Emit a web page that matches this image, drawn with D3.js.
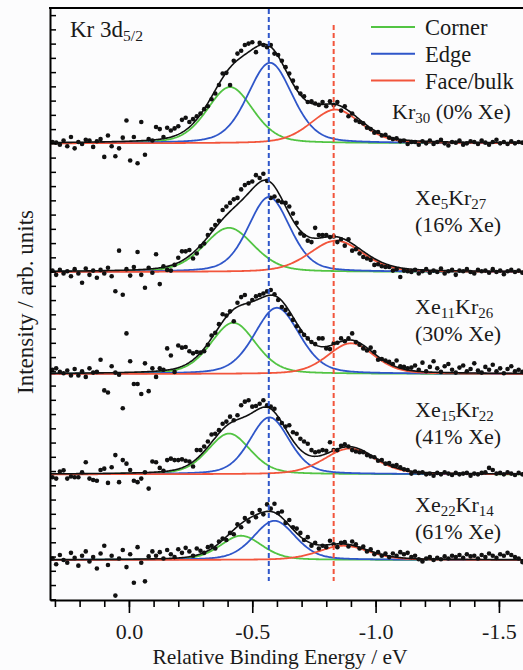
<!DOCTYPE html>
<html>
<head>
<meta charset="utf-8">
<script src="https://cdn.jsdelivr.net/npm/d3@7"></script>
<style>
  body { margin: 0; background: #fcfcfd; }
  svg text { font-family: "Liberation Serif", "DejaVu Serif", serif; fill: #1a1a1a; }
</style>
</head>
<body>
<div id="chart"></div>
<script>

// energy grid of the measured spectra (relative binding energy, eV)
const energyStart = 0.31
const energyStep = -0.015

// measured intensities, relative to the baseline of each spectrum (arb. units)
const kr30 = [
  0.1, 0.05, -0.1, 0.2, -0.2, 0.45, -0.35, 0.1, -0.05, 0.25, 0.2, -0.25, 0.15, 0.3, -0.95, 0.55, -0.2, -0.9, -0.35, 0.4,
  1.6, -1.2, 0.45, -1.4, 1.5, -0.8, 0.3, 0.2, 1.15, 1.0, 0.45, 1.1, 0.9, 1.05, 1.2, 1.65, 1.8, 1.5, 1.7, 1.9,
  2.1, 2.4, 2.6, 3.1, 3.5, 4.1, 4.9, 4.95, 4.1, 5.8, 6.3, 6.5, 6.9, 7.0, 7.1, 6.4, 7.05, 6.9, 6.75, 6.9,
  6.3, 6.2, 5.8, 5.35, 4.9, 4.4, 3.9, 3.5, 3.3, 2.9, 2.95, 2.8, 2.7, 2.9, 2.6, 2.95, 2.7, 2.9, 2.3, 2.6,
  1.9, 2.1, 1.6, 1.5, 1.4, 1.1, 1.0, 0.75, 0.8, 0.55, 0.6, 0.4, 0.3, 0.35, 0.15, 0.2, -0.05, 0.1,
  0.1, -0.1, 0.15, 0, 0.2, -0.05, 0.1, 0.25, 0, -0.15, 0.1, 0.05, 0.2, -0.1, 0, 0.15, 0.1, -0.05, 0.2, 0.05,
  -0.1, 0.1, 0.25, 0, 0.1, -0.05, 0.15, 0, 0.1, 0.05
]
const xe5kr27 = [
  0.1, -0.2, 0.15, -0.1, 0.05, -0.3, 0.2, -0.1, -0.75, 0.25, -0.2, 0.1, -0.4, 0.15, -0.1, 0.3, -0.3, -1.35, 1.5, -1.6,
  0.2, -0.25, 0.35, 1.4, -0.2, -1.1, 0.3, -0.05, 1.25, -0.85, 0.4, 0.15, 0.1, 0.5, 1.0, 1.45, 1.45, 1.55, 0.95, 1.3,
  1.8, 2.0, 2.6, 3.0, 3.3, 3.6, 4.35, 4.6, 4.85, 5.1, 5.2, 5.8, 6.1, 6.25, 6.35, 6.8, 6.6, 6.9, 6.4, 5.2,
  5.3, 5.0, 4.9, 4.85, 4.6, 4.1, 3.45, 2.7, 2.55, 2.2, 2.1, 3.1, 2.6, 2.6, 2.6, 2.45, 2.5, 2.1, 2.3, 1.85,
  2.3, 1.5, 1.6, 1.3, 1.05, 0.95, 0.85, 0.5, 0.55, 0.4, 0.35, 0.35, 0.1, 0.2, -0.35, 0.1, 0.05, 0.0,
  0.15, -0.1, 0.05, 0.2, -0.05, 0.1, 0, 0.25, -0.1, 0.05, 0.15, -0.2, 0.1, 0.05, 0.2, 0, -0.1, 0.15, 0.05, 0.1,
  -0.05, 0.2, 0, 0.1, -0.15, 0.05, 0.15, 0, 0.1, -0.05
]
const xe11kr26 = [
  0.3, 0.4, 0.15, 0.05, 0.25, -0.1, 0.35, -0.1, 0.2, -0.2, 0.4, 0.1, 0.15, 1.0, -1.15, -1.3, 0.55, 0.1, -0.05, -2.4,
  2.85, 0.9, -0.7, -0.7, -1.4, 0.75, -1.2, 0.4, -0.2, 0.4, 0.3, 1.8, 1.3, 0.15, 2.0, 1.85, 1.9, 1.6, 1.45, 1.55,
  1.5, 1.6, 2.05, 2.7, 2.9, 3.5, 4.2, 4.1, 4.4, 3.7, 5.0, 5.4, 5.55, 4.95, 5.2, 5.45, 5.55, 5.65, 5.8, 5.9,
  5.6, 5.2, 4.7, 4.5, 4.2, 3.8, 3.35, 3.0, 2.75, 2.5, 2.25, 2.1, 2.5, 2.5, 1.8, 1.75, 2.15, 2.2, 2.5, 2.3,
  2.5, 2.85, 2.25, 2.05, 1.8, 1.65, 1.85, 1.55, 1.0, 1.05, 0.95, 0.85, 0.7, 0.95, 0.55, 0.5, 0.4, 0.45,
  0.6, 0.3, 0.8, 0.2, 0.5, 0.9, 0.4, 0.15, 0.55, 0.7, 0.3, 0.1, 0.45, 0.6, 0.2, 0.35, 0.75, 0.25, 0.1, 0.5,
  0.3, 0.65, 0.2, 0.4, 0.05, 0.35, 0.55, 0.2, 0.3, 0.15
]
const xe15kr22 = [
  -0.2, -0.3, 0.2, 0.28, -0.3, -0.15, -0.2, -0.2, 0.15, 0.85, -0.3, -0.4, -0.45, 0.3, 0.4, -0.6, 0.5, 1.35, -0.55, 1.0,
  0.75, 0.3, -0.45, -0.55, -0.3, 0.15, -1.0, 0.9, 0.85, 0.45, 0.25, 1.0, 1.1, 1.0, 1.0, 1.05, 0.95, 0.9, 0.55, 1.7,
  1.7, 1.95, 2.3, 2.8, 2.85, 3.1, 3.55, 3.7, 4.05, 3.8, 4.15, 4.85, 5.1, 5.2, 4.75, 4.8, 4.95, 5.2, 4.85, 4.75,
  4.6, 3.9, 3.6, 3.35, 3.45, 2.95, 2.85, 2.5, 2.3, 2.15, 1.7, 1.55, 1.6, 1.7, 1.65, 2.25, 1.7, 1.7, 2.0, 2.1,
  1.95, 1.7, 1.6, 1.55, 1.55, 1.35, 1.25, 1.2, 0.95, 1.0, 0.75, 0.8, 0.6, 0.65, 0.5, 0.35, 0.3, 0.05,
  0.2, 0.1, 0.15, 0.0, 0.05, -0.1, 0.1, 0.0, 0.15, 0.05, -0.05, 0.1, 0.0, 0.05, 0.1, -0.1, 0.05, 0.0, 0.1, 0.15,
  0.45, 0.3, 0.05, 0.1, 0.0, 0.15, 0.05, -0.05, 0.1, 0.0
]
const xe22kr14 = [
  0.1, -0.3, 0.35, 0.0, -0.2, 0.5, 0.15, -0.4, 0.3, 0.6, -0.1, 0.2, -0.6, 0.45, 1.0, -0.35, 0.3, -2.5, 0.1, 0.7,
  -0.5, 0.4, -1.6, 0.9, -0.2, -1.5, 0.25, 0.6, 0.3, 0.55, 0.1, 0.7, 0.4, 0.2, 0.75, 0.5, 0.85, 0.6, 0.3, 0.8,
  0.65, 0.5, 0.9, 1.0, 0.8, 1.3, 1.5, 1.4, 1.9, 1.8, 2.5, 2.3, 2.95, 2.7, 3.3, 3.0, 3.5, 3.2, 3.9, 3.6,
  3.95, 3.3, 3.4, 2.6, 2.8, 2.3, 2.2, 1.9, 1.4, 1.6, 1.0, 1.2, 0.8, 1.0, 0.9, 1.35, 1.1, 0.9, 1.2, 1.25,
  0.95, 1.3, 1.1, 0.8, 0.95, 0.6, 0.75, 0.4, 0.55, 0.3, 0.45, 0.2, 0.45, 0.3, 0.55, 0.4, 0.5, 0.2,
  0.3, 0.05, -0.1, 0.1, 0.2, 0.0, 0.15, 0.05, 0.25, 0.1, 0.3, 0.2, 0.35, 0.15, 0.4, 0.25, 0.3, 0.1, 0.35, 0.2,
  0.45, 0.3, 0.15, 0.4, 0.3, 0.5, 0.35, 0.2, 0.1, -0.15
]

// offset of each spectrum on the intensity axis
const baselines = [32, 22.97, 15.81, 8.77, 2.76]

// fitted components per spectrum: [center eV, height, half width eV]
const cornerFits = [[-0.41, 3.95, 0.11], [-0.405, 3.1, 0.12], [-0.423, 3.6, 0.108], [-0.406, 2.86, 0.102], [-0.455, 1.7, 0.1]]
const edgeFits = [[-0.572, 5.65, 0.107], [-0.568, 5.26, 0.1], [-0.6, 4.65, 0.108], [-0.57, 4.0, 0.095], [-0.59, 2.75, 0.1]]
const faceFits = [[-0.838, 2.37, 0.12], [-0.84, 2.2, 0.128], [-0.9, 2.16, 0.112], [-0.895, 1.81, 0.122], [-0.87, 1.0, 0.12]]

// positions of the edge and face/bulk reference lines (eV)
const edgeLine = -0.567
const faceLine = -0.83

const legendNames = [`Corner`, `Edge`, `Face/bulk`]
const xTickLabels = [0, -0.5, -1.0, -1.5]

const spectra = [kr30, xe5kr27, xe11kr26, xe15kr22, xe22kr14]


// ---------------------------------------------------------------------------

const width = 523, height = 670
const plot = { left: 50, right: 523.6, top: 8, bottom: 600 }
const colors = { corner: `#52c443`, edge: `#2f56c9`, face: `#f2553c` }

const x = d3.scaleLinear().domain([0.32, -1.6]).range([plot.left, plot.right])
const y = d3.scaleLinear().domain([-0.05, 41.5]).range([plot.bottom, plot.top])

const svg = d3.select(`#chart`).append(`svg`)
  .attr(`width`, width)
  .attr(`height`, height)

svg.append(`clipPath`).attr(`id`, `plotclip`)
  .append(`rect`)
  .attr(`x`, plot.left).attr(`y`, plot.top)
  .attr(`width`, plot.right - plot.left).attr(`height`, plot.bottom - plot.top)

// pseudo-voigt line shape of the fit components
const eta = 0.3
function profile(e, [c, h, w]) {
  const t = (e - c) / w
  return h * (eta / (1 + t * t) + (1 - eta) * Math.exp(-Math.LN2 * t * t))
}

const curveEnergies = d3.range(0.32, -1.6005, -0.004)
const line = d3.line().x(d => x(d[0])).y(d => y(d[1]))

const g = svg.append(`g`).attr(`clip-path`, `url(#plotclip)`)

spectra.forEach((values, p) => {
  const base = baselines[p]
  const comps = [
    [cornerFits[p], colors.corner],
    [edgeFits[p], colors.edge],
    [faceFits[p], colors.face]
  ]

  // component curves
  comps.forEach(([fit, color]) => {
    g.append(`path`)
      .attr(`d`, line(curveEnergies.map(e => [e, base + profile(e, fit)])))
      .attr(`fill`, `none`)
      .attr(`stroke`, color)
      .attr(`stroke-width`, 1.8)
  })

  // total fit
  g.append(`path`)
    .attr(`d`, line(curveEnergies.map(e => [e, base + comps.reduce((s, c) => s + profile(e, c[0]), 0)])))
    .attr(`fill`, `none`)
    .attr(`stroke`, `#111`)
    .attr(`stroke-width`, 1.6)

  // measured points
  g.selectAll(null)
    .data(values)
    .join(`circle`)
    .attr(`cx`, (d, i) => x(energyStart + i * energyStep))
    .attr(`cy`, d => y(base + d))
    .attr(`r`, 2.3)
    .attr(`fill`, `#111`)
})

// reference lines
const dashed = [[edgeLine, colors.edge, 9], [faceLine, colors.face, 25]]
dashed.forEach(([e, color, top]) => {
  svg.append(`line`)
    .attr(`x1`, x(e)).attr(`x2`, x(e))
    .attr(`y1`, top).attr(`y2`, 581)
    .attr(`stroke`, color)
    .attr(`stroke-width`, 2)
    .attr(`stroke-dasharray`, `5,3`)
})


// axes
const minorTicks = d3.range(3, -17, -1).map(d => d / 10)

svg.append(`g`)
  .attr(`transform`, `translate(0,${plot.bottom})`)
  .call(d3.axisBottom(x).tickValues(minorTicks).tickSize(7).tickSizeOuter(0).tickFormat(``))
  .call(a => a.select(`.domain`).attr(`stroke-width`, 2))
  .call(a => a.selectAll(`.tick line`).attr(`stroke-width`, 1.6))

svg.append(`g`)
  .attr(`transform`, `translate(0,${plot.bottom})`)
  .call(d3.axisBottom(x).tickValues(xTickLabels).tickSize(13).tickSizeOuter(0).tickPadding(10)
    .tickFormat(d => d3.format(`.1f`)(d).replace(`−`, `-`)))
  .call(a => a.select(`.domain`).remove())
  .call(a => a.selectAll(`.tick line`).attr(`stroke-width`, 1.6))
  .call(a => a.selectAll(`.tick text`).attr(`font-size`, 22).attr(`font-family`, `Liberation Serif`).attr(`fill`, `#1a1a1a`))

svg.append(`g`)
  .attr(`transform`, `translate(${plot.left},0)`)
  .call(d3.axisLeft(y).tickValues(d3.range(0, 42)).tickSize(-6).tickSizeOuter(0).tickFormat(``))
  .call(a => a.select(`.domain`).attr(`stroke-width`, 2))
  .call(a => a.selectAll(`.tick line`).attr(`stroke-width`, 1.5))

// top border
svg.append(`line`)
  .attr(`x1`, plot.left - 1).attr(`x2`, width)
  .attr(`y1`, plot.top).attr(`y2`, plot.top)
  .attr(`stroke`, `#000`).attr(`stroke-width`, 2)

// axis titles
svg.append(`text`)
  .attr(`x`, 280).attr(`y`, 664)
  .attr(`text-anchor`, `middle`)
  .attr(`font-size`, 21.5)
  .text(`Relative Binding Energy / eV`)

svg.append(`text`)
  .attr(`transform`, `translate(33,302) rotate(-90)`)
  .attr(`text-anchor`, `middle`)
  .attr(`font-size`, 23)
  .text(`Intensity / arb. units`)


// rich text helper: parts are [text, isSubscript]
function richText(xPos, yPos, parts, size) {
  const t = svg.append(`text`).attr(`x`, xPos).attr(`y`, yPos).attr(`font-size`, size)
  let shift = 0
  parts.forEach(([s, sub]) => {
    const target = sub ? 4 : 0
    t.append(`tspan`)
      .attr(`font-size`, sub ? size * 0.68 : size)
      .attr(`dy`, target - shift)
      .text(s)
    shift = target
  })
  return t
}

richText(70, 37, [[`Kr 3d`, false], [`5/2`, true]], 23)

// legend
legendNames.forEach((name, i) => {
  const ly = 27 + i * 26.8
  svg.append(`line`)
    .attr(`x1`, 371).attr(`x2`, 415)
    .attr(`y1`, ly).attr(`y2`, ly)
    .attr(`stroke`, [colors.corner, colors.edge, colors.face][i])
    .attr(`stroke-width`, 2)
  svg.append(`text`)
    .attr(`x`, 425).attr(`y`, ly + 8)
    .attr(`font-size`, 22.5)
    .text(name)
})

// spectrum labels
richText(392, 119, [[`Kr`, false], [`30`, true], [` (0% Xe)`, false]], 22)

const labelRows = [
  [205, [[`Xe`, false], [`5`, true], [`Kr`, false], [`27`, true]], `(16% Xe)`],
  [314, [[`Xe`, false], [`11`, true], [`Kr`, false], [`26`, true]], `(30% Xe)`],
  [417, [[`Xe`, false], [`15`, true], [`Kr`, false], [`22`, true]], `(41% Xe)`],
  [512, [[`Xe`, false], [`22`, true], [`Kr`, false], [`14`, true]], `(61% Xe)`]
]
labelRows.forEach(([ly, parts, share]) => {
  richText(415, ly, parts, 22)
  svg.append(`text`).attr(`x`, 415).attr(`y`, ly + 27).attr(`font-size`, 22).text(share)
})

</script>
</body>
</html>
